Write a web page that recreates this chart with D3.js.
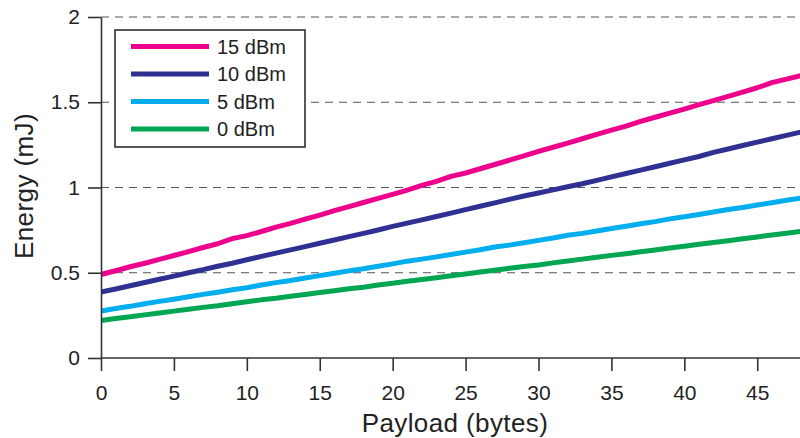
<!DOCTYPE html>
<html><head><meta charset="utf-8">
<script src="https://cdn.jsdelivr.net/npm/d3@7"></script>
<style>body{margin:0;background:#fff;}svg{display:block;font-family:"Liberation Sans",Arial,Helvetica,sans-serif;}</style>
</head><body>
<svg id="chart" width="800" height="438"></svg>
<script>
const payload = d3.range(0, 49);
const series15 = [0.490,0.512,0.535,0.556,0.578,0.601,0.624,0.648,0.670,0.700,0.718,0.742,0.768,0.790,0.814,0.838,0.864,0.888,0.912,0.936,0.960,0.985,1.012,1.036,1.065,1.085,1.110,1.135,1.160,1.186,1.212,1.236,1.260,1.286,1.312,1.336,1.360,1.388,1.412,1.436,1.460,1.486,1.510,1.534,1.560,1.585,1.615,1.636,1.656];
const series10 = [0.387,0.405,0.424,0.443,0.462,0.480,0.500,0.518,0.538,0.556,0.576,0.596,0.615,0.634,0.653,0.673,0.692,0.712,0.731,0.751,0.772,0.791,0.810,0.830,0.850,0.870,0.890,0.910,0.930,0.950,0.968,0.986,1.004,1.022,1.042,1.062,1.082,1.102,1.122,1.142,1.162,1.182,1.206,1.226,1.246,1.266,1.286,1.306,1.325];
const series5 = [0.276,0.290,0.303,0.318,0.332,0.345,0.359,0.373,0.386,0.400,0.412,0.428,0.442,0.455,0.469,0.483,0.497,0.511,0.524,0.538,0.552,0.568,0.580,0.593,0.607,0.621,0.635,0.651,0.662,0.676,0.690,0.704,0.720,0.731,0.745,0.759,0.773,0.787,0.800,0.816,0.828,0.842,0.856,0.871,0.883,0.897,0.911,0.925,0.938];
const series0 = [0.220,0.232,0.242,0.253,0.264,0.275,0.286,0.297,0.306,0.318,0.330,0.341,0.350,0.362,0.373,0.384,0.395,0.406,0.415,0.428,0.438,0.450,0.460,0.471,0.482,0.493,0.504,0.515,0.526,0.537,0.545,0.558,0.569,0.580,0.591,0.602,0.612,0.623,0.634,0.645,0.656,0.667,0.678,0.688,0.699,0.710,0.721,0.732,0.742];
const seriesNames = ["15 dBm","10 dBm","5 dBm","0 dBm"];
const seriesColors = ["#EC008C","#2E3192","#00AEEF","#00A651"];
const seriesData = [series15, series10, series5, series0];
const xTicks = [0,5,10,15,20,25,30,35,40,45];
const yTicks = [0,0.5,1,1.5,2];
const yTickLabels = ["0","0.5","1","1.5","2"];

const svg = d3.select("#chart");
const L = 101, R = 801, T = 17, B = 358;
const x = d3.scaleLinear().domain([0, 48]).range([L, R]);
const y = d3.scaleLinear().domain([0, 2]).range([B, T]);

svg.append("defs").append("clipPath").attr("id","clip")
  .append("rect").attr("x",L).attr("y",T-5).attr("width",800-L).attr("height",B-T+5);

// grid
svg.append("g").selectAll("line").data(yTicks.filter(d=>d>0)).join("line")
  .attr("x1",L).attr("x2",800).attr("y1",d=>y(d)).attr("y2",d=>y(d))
  .attr("stroke","#555").attr("stroke-width",1.2).attr("stroke-dasharray","8,6");

// lines
const line = d3.line().x((d,i)=>x(payload[i])).y(d=>y(d));
svg.append("g").attr("clip-path","url(#clip)").selectAll("path").data(seriesData).join("path")
  .attr("d", d=>line(d)).attr("fill","none")
  .attr("stroke",(d,i)=>seriesColors[i]).attr("stroke-width",5).attr("stroke-linejoin","round");

// axes
const xAxis = d3.axisBottom(x).tickValues(xTicks).tickSize(13).tickPadding(14).tickSizeOuter(0);
const gx = svg.append("g").attr("transform",`translate(0,${B})`).call(xAxis);
gx.select(".domain").attr("d",`M${L},0H800`);
const yAxis = d3.axisLeft(y).tickValues(yTicks).tickFormat((d,i)=>yTickLabels[i]).tickSize(13).tickPadding(8).tickSizeOuter(0);
const gy = svg.append("g").attr("transform",`translate(${L},0)`).call(yAxis);
[gx, gy].forEach(g=>{
  g.selectAll(".domain").attr("stroke","#333").attr("stroke-width",1.6);
  g.selectAll(".tick line").attr("stroke","#333").attr("stroke-width",1.6);
  g.selectAll(".tick text").attr("fill","#222").style("font-size","21px").style("font-family","'Liberation Sans',Arial,sans-serif");
});

// axis labels
svg.append("text").attr("x",455).attr("y",432).attr("text-anchor","middle")
  .attr("fill","#222").style("font-size","26px").style("letter-spacing","0.4px").text("Payload (bytes)");
svg.append("text").attr("transform","translate(33,186) rotate(-90)").attr("text-anchor","middle")
  .attr("fill","#222").style("font-size","26px").style("letter-spacing","0.4px").text("Energy (mJ)");

// legend
const lg = svg.append("g");
lg.append("rect").attr("x",115).attr("y",30).attr("width",190).attr("height",117)
  .attr("fill","#fff").attr("stroke","#222").attr("stroke-width",1.5);
const items = lg.selectAll("g.item").data(seriesNames).join("g").attr("class","item")
  .attr("transform",(d,i)=>`translate(0,${46.5 + i*27.5})`);
items.append("line").attr("x1",131).attr("x2",209).attr("y1",0).attr("y2",0)
  .attr("stroke",(d,i)=>seriesColors[i]).attr("stroke-width",5);
items.append("text").attr("x",217).attr("y",7).attr("fill","#222").style("font-size","20px").text(d=>d);
</script>
</body></html>
